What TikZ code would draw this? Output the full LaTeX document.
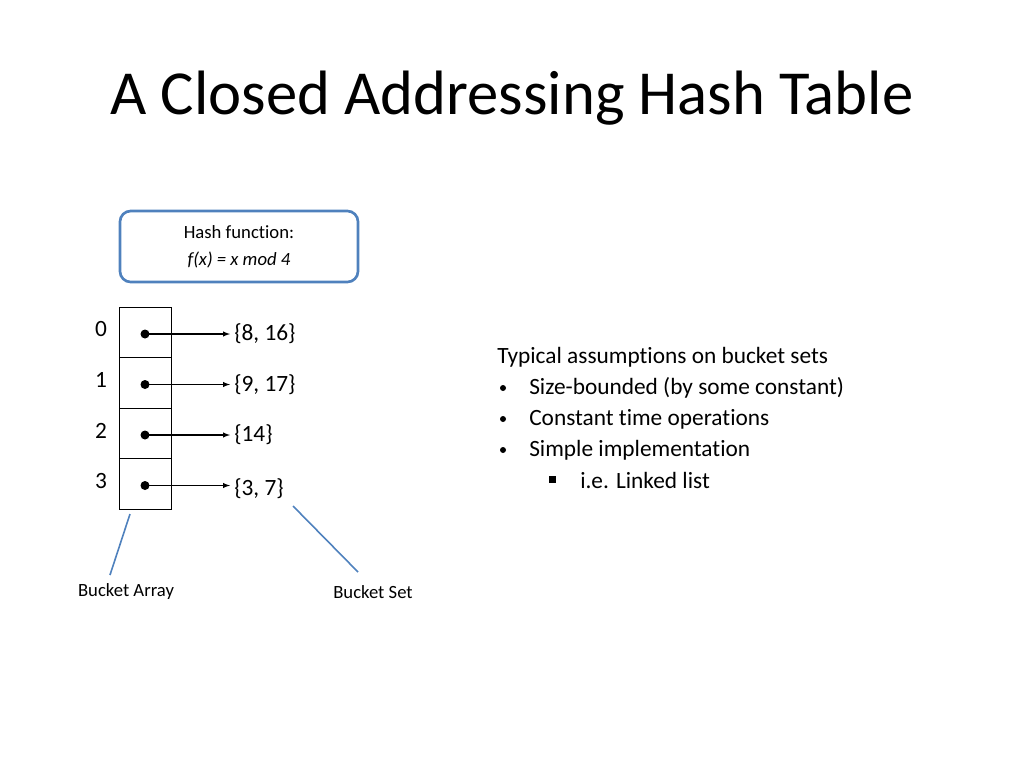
\documentclass[tikz,border=0pt]{standalone}
\usepackage{fontspec}
\setmainfont{Carlito}[RawFeature=-liga]
\begin{document}
\begin{tikzpicture}[x=0.75pt,y=-0.75pt,
  lbl/.style={font=\fontsize{17.5pt}{20pt}\selectfont,inner sep=0},
  sm/.style={font=\fontsize{14pt}{16pt}\selectfont,inner sep=0},
  cell/.style={draw,minimum width=52*0.75pt,minimum height=50.5*0.75pt,inner sep=0},
  ptr/.style={-latex,thick,shorten >=3pt},
  callout/.style={draw={rgb,255:red,79;green,129;blue,189},line width=1.2pt}]
\useasboundingbox (0,0) rectangle (1024,768);
\node[font=\fontsize{47pt}{52pt}\selectfont] (title) at (512,98) {A Closed Addressing Hash Table};
\node[draw={rgb,255:red,79;green,129;blue,189},line width=2pt,rounded corners=8pt,minimum width=238*0.75pt,minimum height=71*0.75pt,align=center,font=\fontsize{14pt}{20pt}\selectfont] (hash) at (239,246.5) {Hash function:\\\textit{f(x) = x mod 4}};
\foreach \i/\y/\t in {0/332.5/{\{8, 16\}},1/383/{\{9, 17\}},2/433.5/{\{14\}},3/484/{\{3, 7\}}}{
  \node[cell] (c\i) at (145,\y) {};
  \node[lbl] (n\i) at (101,\y-3) {\i};
  \fill (145,\y+1.5) circle (4.5) coordinate (d\i);
  \node[lbl,anchor=west] (s\i) at (234,\y+1.5+\ifnum\i=3 3\else0\fi) {\t};
  \draw[ptr] (d\i) -- (d\i -| s\i.west);
}
\node[sm] (ba) at (126,592) {Bucket Array};
\node[sm] (bs) at (373,592) {Bucket Set};
\coordinate (ba0) at (130,514); \coordinate (ba1) at (110,575);
\coordinate (bs0) at (293,506); \coordinate (bs1) at (358,572);
\draw[callout] (ba0) -- (ba1);
\draw[callout] (bs0) -- (bs1);
\node[lbl,anchor=west] (t0) at (497,357) {Typical assumptions on bucket sets};
\foreach \k/\y/\t in {1/388/{Size-bounded (by some constant)},2/419/{Constant time operations},3/450/{Simple implementation}}{
  \fill (503,\y) circle (3) coordinate (b\k);
  \node[lbl,anchor=west] (t\k) at (529,\y) {\t};
}
\fill (549,476) rectangle (556,483);
\node[lbl,anchor=west] (t4) at (580,480) {i.e. Linked list};
\end{tikzpicture}
\end{document}
